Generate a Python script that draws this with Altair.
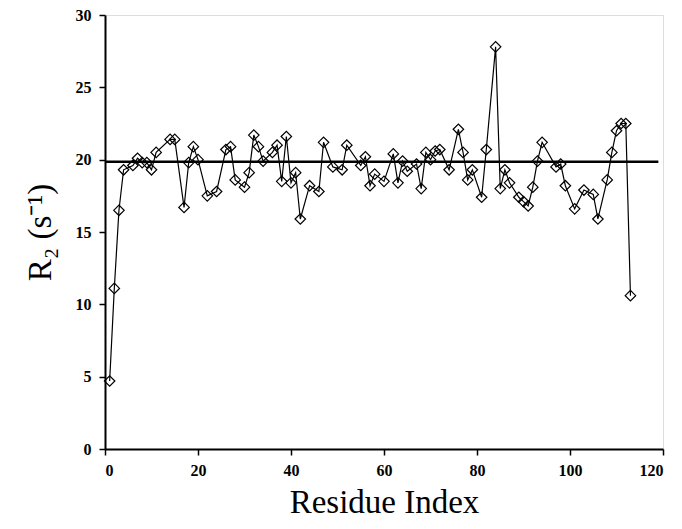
import altair as alt
import pandas as pd

residues = [1, 2, 3, 4, 6, 7, 8, 9, 10, 11, 14, 15, 17, 18, 19, 20, 22, 24, 26, 27,
            28, 30, 31, 32, 33, 34, 36, 37, 38, 39, 40, 41, 42, 44, 46, 47, 49, 51, 52, 55,
            56, 57, 58, 60, 62, 63, 64, 65, 67, 68, 69, 70, 71, 72, 74, 76, 77, 78, 79, 81,
            82, 84, 85, 86, 87, 89, 90, 91, 92, 93, 94, 97, 98, 99, 101, 103, 105, 106, 108, 109,
            110, 111, 112, 113]
r2_values = [4.7, 11.1, 16.5, 19.3, 19.6, 20.1, 19.8, 19.8, 19.3, 20.5, 21.4, 21.4, 16.7, 19.8, 20.9, 20.0, 17.5, 17.8, 20.7, 20.9,
             18.6, 18.1, 19.1, 21.7, 20.9, 19.9, 20.5, 21.0, 18.5, 21.6, 18.4, 19.1, 15.9, 18.2, 17.8, 21.2, 19.5, 19.3, 21.0, 19.6,
             20.2, 18.2, 19.0, 18.5, 20.4, 18.4, 19.9, 19.2, 19.7, 18.0, 20.5, 20.0, 20.6, 20.7, 19.3, 22.1, 20.5, 18.6, 19.3, 17.4,
             20.7, 27.8, 18.0, 19.3, 18.4, 17.4, 17.1, 16.8, 18.1, 19.9, 21.2, 19.5, 19.7, 18.2, 16.6, 17.9, 17.6, 15.9, 18.6, 20.5,
             22.0, 22.5, 22.5, 10.6]

mean_level = [19.85]
mean_span = [0, 119]

x_ticks = [0, 20, 40, 60, 80, 100, 120]
y_ticks = [0, 5, 10, 15, 20, 25, 30]

df = pd.DataFrame({"residue": residues, "r2": r2_values})
mean_df = pd.DataFrame({"x": [mean_span[0]], "x2": [mean_span[1]], "y": mean_level})

FONT = "Liberation Serif"

x_enc = alt.X("residue:Q",
              scale=alt.Scale(domain=[0, 120], nice=False, zero=False),
              axis=alt.Axis(values=x_ticks, title="Residue Index", grid=False,
                            labelFont=FONT, labelFontWeight="bold", labelFontSize=16,
                            titleFont=FONT, titleFontWeight="normal", titleFontSize=33,
                            domainColor="black", domainWidth=2, tickColor="black",
                            tickWidth=1.5, tickSize=6, labelPadding=7, titlePadding=8,
                            labelColor="black", titleColor="black"))
y_enc = alt.Y("r2:Q",
              scale=alt.Scale(domain=[0, 30], nice=False),
              axis=alt.Axis(values=y_ticks, title="R₂ (s⁻¹)", grid=False,
                            labelFont=FONT, labelFontWeight="bold", labelFontSize=16,
                            titleFont=FONT, titleFontWeight="normal", titleFontSize=33,
                            domainColor="black", domainWidth=2, tickColor="black",
                            tickWidth=1.5, tickSize=6, labelPadding=8, titlePadding=18,
                            labelColor="black", titleColor="black"))

line = alt.Chart(df).mark_line(color="black", strokeWidth=1.2).encode(x=x_enc, y=y_enc)
points = alt.Chart(df).mark_point(shape="diamond", size=110, filled=False,
                                  color="black", strokeWidth=1.2, opacity=1).encode(x=x_enc, y=y_enc)
rule = alt.Chart(mean_df).mark_rule(color="black", strokeWidth=2.5).encode(
    x="x:Q", x2="x2:Q", y="y:Q")

chart = (line + points + rule).properties(
    width=558, height=434,
    autosize="none",
    padding={"left": 97, "top": 7, "right": 10, "bottom": 72},
).configure_view(stroke="black", strokeWidth=2).configure(background="white")

chart.save("out.html", embed_options={"renderer": "svg", "actions": False})
